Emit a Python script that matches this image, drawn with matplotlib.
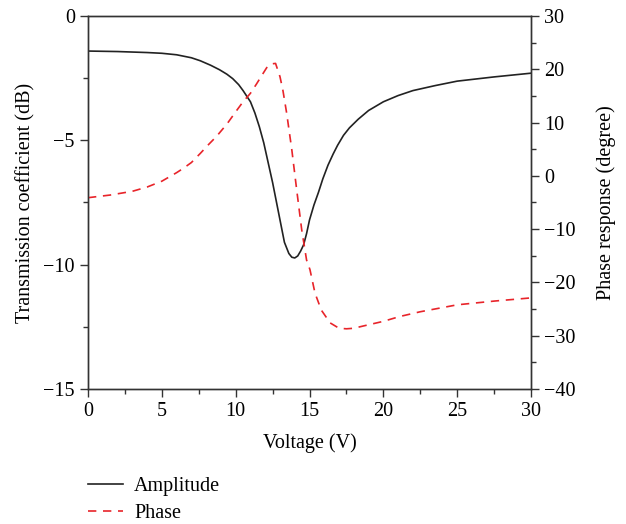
import matplotlib
matplotlib.use("Agg")
import matplotlib.pyplot as plt
from matplotlib.ticker import MultipleLocator

# amplitude (dB) vs voltage
amp_v = [0, 2, 4, 5, 6, 7, 7.6, 8.3, 8.9, 9.4, 9.8, 10.2, 10.5, 11.0, 11.3, 11.6,
         11.9, 12.2, 12.5, 12.9, 13.1, 13.3, 13.6, 13.8, 14.0, 14.2, 14.4, 14.6,
         14.8, 15.0, 15.3, 15.6, 15.9, 16.25, 16.6, 16.9, 17.3, 17.7, 18.3, 19.0,
         20.0, 21.0, 22.0, 23.5, 25.0, 27.5, 30.0]
amp_db = [-1.41, -1.43, -1.47, -1.50, -1.56, -1.68, -1.80, -1.98, -2.16, -2.34,
          -2.52, -2.76, -3.00, -3.45, -3.90, -4.45, -5.10, -5.90, -6.70, -7.90,
          -8.50, -9.10, -9.55, -9.70, -9.73, -9.65, -9.45, -9.20, -8.75, -8.20,
          -7.60, -7.10, -6.55, -6.00, -5.55, -5.20, -4.80, -4.50, -4.15, -3.80,
          -3.45, -3.20, -3.00, -2.80, -2.62, -2.45, -2.30]

# phase (degree) vs voltage
ph_v = [0, 1.5, 3, 4, 5, 6, 6.5, 7, 7.6, 8.1, 8.7, 9.4, 10.1, 10.5, 11.0, 11.4,
        11.85, 12.1, 12.4, 12.7, 13.0, 13.2, 13.45, 13.8, 14.13, 14.47, 14.8,
        15.03, 15.37, 15.8, 16.4, 17.0, 17.5, 18.0, 18.6, 20.0, 21.1, 22.5, 25.0,
        27.5, 30.0]
ph_deg = [-4.1, -3.6, -2.9, -2.1, -1.0, 0.6, 1.5, 2.5, 4.2, 5.7, 7.4, 9.7, 12.4,
          13.9, 15.5, 17.2, 19.2, 20.3, 21.0, 21.1, 18.6, 16.0, 11.8, 4.9, -2.6,
          -10.1, -15.8, -17.6, -22.0, -25.2, -27.6, -28.6, -28.7, -28.6, -28.2,
          -27.3, -26.4, -25.5, -24.2, -23.5, -22.9]

plt.rcParams["font.family"] = ["Liberation Serif", "DejaVu Serif"]
plt.rcParams["font.size"] = 14.5

fig = plt.figure(figsize=(6.26, 5.24), dpi=100)
ax = fig.add_axes([0.1406, 0.2576, 0.7077, 0.7119])
ax2 = ax.twinx()

(amp_line,) = ax.plot(amp_v, amp_db, color="#222222", lw=1.2, label="Amplitude")
(ph_line,) = ax2.plot(ph_v, ph_deg, color="#e8242a", lw=1.2, ls=(0, (5, 4)),
                      label="Phase")

ax.set_xlim(0, 30)
ax.set_ylim(-15, 0)
ax2.set_ylim(-40, 30)

ax.xaxis.set_major_locator(MultipleLocator(5))
ax.xaxis.set_minor_locator(MultipleLocator(2.5))
ax.yaxis.set_major_locator(MultipleLocator(5))
ax.yaxis.set_minor_locator(MultipleLocator(2.5))
ax2.yaxis.set_major_locator(MultipleLocator(10))
ax2.yaxis.set_minor_locator(MultipleLocator(5))

for a in (ax, ax2):
    a.tick_params(which="major", direction="out", length=6, width=1, color="#333333")
    a.tick_params(which="minor", direction="out", length=3.5, width=1, color="#333333")
    for sp in a.spines.values():
        sp.set_color("#333333")
        sp.set_linewidth(1)
ax.tick_params(top=False, right=False, which="both")

ax.set_xlabel("Voltage (V)", labelpad=9)
ax.set_ylabel("Transmission coefficient (dB)", labelpad=6)
ax2.set_ylabel("Phase response (degree)", labelpad=15)

fig.legend(handles=[amp_line, ph_line], loc="upper left",
           bbox_to_anchor=(0.14, 0.090), frameon=False, handlelength=1.75,
           handletextpad=0.55, labelspacing=0.4, borderaxespad=0,
           borderpad=0)

fig.savefig("out.png", dpi=100)
